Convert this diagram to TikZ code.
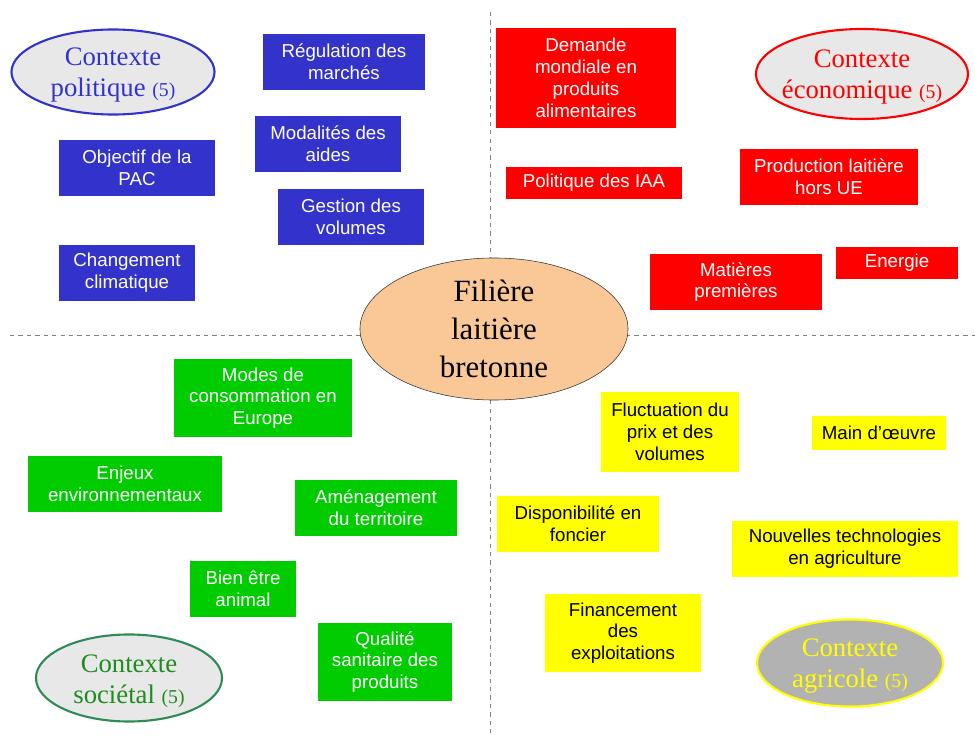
\documentclass[tikz,border=0pt]{standalone}
\usepackage{fontspec}
\setmainfont{Liberation Serif}
\setsansfont{Liberation Sans}
\usepackage{xcolor}
\usepackage{tikz}
\usetikzlibrary{shapes.geometric, positioning}
\definecolor{polblue}{RGB}{51,51,204}
\definecolor{ecored}{RGB}{255,0,0}
\definecolor{socgreen}{RGB}{0,204,0}
\definecolor{socdark}{RGB}{46,139,87}
\definecolor{soctext}{RGB}{30,140,30}
\definecolor{agryellow}{RGB}{255,255,0}
\definecolor{ctxgray}{RGB}{232,232,232}
\definecolor{agrgray}{RGB}{178,178,178}
\definecolor{peach}{RGB}{250,200,150}

\newcommand{\five}{{\fontsize{14}{16}\selectfont (5)}}

\begin{document}
\begin{tikzpicture}[
    x=0.025cm, y=-0.025cm,
    factbox/.style={inner sep=2pt, align=center, font=\sffamily\fontsize{13.3}{15.5}\selectfont},
    polbox/.style={factbox, fill=polblue, text=white},
    ecobox/.style={factbox, fill=ecored, text=white},
    socbox/.style={factbox, fill=socgreen, text=white},
    agrbox/.style={factbox, fill=agryellow, text=black},
    ctxellipse/.style={ellipse, line width=1.5pt, fill=ctxgray, inner sep=0pt, minimum width=4.65cm, minimum height=2.175cm},
    ctxtext/.style={inner sep=0pt, align=center, yshift=-2pt, font=\rmfamily\fontsize{19}{22}\selectfont},
    sepline/.style={gray, dashed, line width=0.5pt}
]
    \useasboundingbox (0,0) rectangle (975,735);

    % Separators
    \draw[sepline] (490,12) -- (490,735);
    \draw[sepline] (10,335) -- (975,335);

    % Centre
    \node[ellipse, draw=black!80, fill=peach, thin, inner sep=0pt, minimum width=6.7cm, minimum height=3.55cm, align=center, font=\rmfamily\fontsize{22}{27}\selectfont] (filiere) at (494,329) {Filière\\laitière\\bretonne};

    % Contexte politique
    \node[ctxellipse, draw=polblue, minimum width=5.075cm, minimum height=2.125cm] (pol_ctx) at (113,72) {};
    \node[ctxtext, text=polblue] (pol_txt) at (pol_ctx.center) {Contexte\\politique \five};
    \node[polbox, minimum width=4.05cm, minimum height=1.375cm] (regulation) at (344,62) {Régulation des\\marchés};
    \node[polbox, minimum width=3.625cm, minimum height=1.375cm] (modalites) at (328,144) {Modalités des\\aides};
    \node[polbox, minimum width=3.875cm, minimum height=1.375cm] (objectif) at (137,168) {Objectif de la\\PAC};
    \node[polbox, minimum width=3.65cm, minimum height=1.375cm] (gestion) at (351,217) {Gestion des\\volumes};
    \node[polbox, minimum width=3.375cm, minimum height=1.375cm] (climat) at (127,273) {Changement\\climatique};

    % Contexte economique
    \node[ctxellipse, draw=ecored, minimum width=5.3cm, minimum height=2.25cm] (eco_ctx) at (862,74) {};
    \node[ctxtext, text=ecored] (eco_txt) at (eco_ctx.center) {Contexte\\économique \five};
    \node[ecobox, minimum width=4.475cm, minimum height=2.5cm] (demande) at (586,78) {Demande\\mondiale en\\produits\\alimentaires};
    \node[ecobox, minimum width=4.4cm, minimum height=0.8cm] (iaa) at (594,183) {Politique des IAA};
    \node[ecobox, minimum width=4.45cm, minimum height=1.375cm] (prod_hors_ue) at (829,177) {Production laitière\\hors UE};
    \node[ecobox, minimum width=4.275cm, minimum height=1.375cm] (matieres) at (736,282) {Matières\\premières};
    \node[ecobox, minimum width=3.025cm, minimum height=0.8cm] (energie) at (897,263) {Energie};

    % Contexte societal
    \node[ctxellipse, draw=socdark] (soc_ctx) at (129,678) {};
    \node[ctxtext, text=soctext] (soc_txt) at (soc_ctx.center) {Contexte\\sociétal \five};
    \node[socbox, minimum width=4.45cm, minimum height=1.925cm] (consommation) at (263,398) {Modes de\\consommation en\\Europe};
    \node[socbox, minimum width=4.85cm, minimum height=1.375cm] (enjeux) at (125,484) {Enjeux\\environnementaux};
    \node[socbox, minimum width=4.05cm, minimum height=1.375cm] (amenagement) at (376,508) {Aménagement\\du territoire};
    \node[socbox, minimum width=2.65cm, minimum height=1.375cm] (bien_etre) at (243,589) {Bien être\\animal};
    \node[socbox, minimum width=3.35cm, minimum height=1.95cm] (qualite) at (385,662) {Qualité\\sanitaire des\\produits};

    % Contexte agricole
    \node[ctxellipse, draw=agryellow, fill=agrgray] (agr_ctx) at (850,663) {};
    \node[ctxtext, text=agryellow] (agr_txt) at (agr_ctx.center) {Contexte\\agricole \five};
    \node[agrbox, minimum width=3.45cm, minimum height=1.975cm] (fluctuation) at (670,432) {Fluctuation du\\prix et des\\volumes};
    \node[agrbox, minimum width=3.325cm, minimum height=0.85cm] (main_oeuvre) at (879,433) {Main d’œuvre};
    \node[agrbox, minimum width=4.05cm, minimum height=1.4cm] (foncier) at (578,524) {Disponibilité en\\foncier};
    \node[agrbox, minimum width=5.625cm, minimum height=1.4cm] (technologies) at (845,549) {Nouvelles technologies\\en agriculture};
    \node[agrbox, minimum width=3.875cm, minimum height=1.95cm] (financement) at (623,633) {Financement\\des\\exploitations};
\end{tikzpicture}
\end{document}
